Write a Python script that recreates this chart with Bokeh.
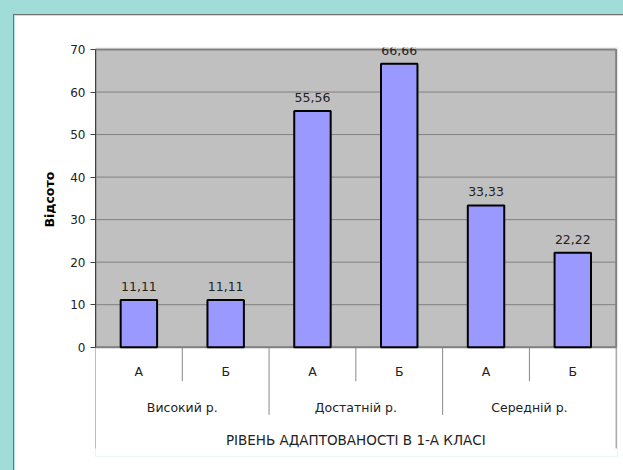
from bokeh.plotting import figure
from bokeh.models import Range1d, FixedTicker, Title, ColumnDataSource
from bokeh.core.properties import value
from bokeh.embed import file_html
from bokeh.resources import INLINE

groups = ["Високий р.", "Достатній р.", "Середній р."]
subs = ["А", "Б"]
values = [11.11, 11.11, 55.56, 66.66, 33.33, 22.22]
y_ticks = [0, 10, 20, 30, 40, 50, 60, 70]
y_label = "Відсото"
x_title = "РІВЕНЬ АДАПТОВАНОСТІ В 1-А КЛАСІ"

FONT = "DejaVu Sans"
n = len(values)
ymax = max(y_ticks)

p = figure(width=612, height=459, output_backend="svg", toolbar_location=None,
           x_range=Range1d(0, n + 0.015), y_range=Range1d(-25.69, ymax + 0.47),
           min_border_left=81, min_border_right=9, min_border_top=32, min_border_bottom=18,
           background_fill_color="white", border_fill_color="white")
p.styles = {"border-top": "1px solid #707070", "border-left": "1px solid #707070"}
p.outline_line_color = None
p.xaxis.visible = False
p.xgrid.visible = False
p.ygrid.visible = False

ya = p.yaxis[0]
ya.ticker = FixedTicker(ticks=y_ticks)
ya.bounds = (0, ymax)
ya.axis_line_color = "#404040"
ya.major_tick_line_color = "#404040"
ya.major_tick_out = 5
ya.major_tick_in = 0
ya.minor_tick_line_color = None
ya.major_label_text_font = FONT
ya.major_label_text_font_size = "12px"
ya.major_label_text_color = "#222222"
ya.major_label_standoff = 5

# plot area background
p.quad(left=[0], right=[n], bottom=[0], top=[ymax], fill_color="#c0c0c0",
       line_color="#808080", line_width=2)
# grid lines
p.segment(x0=[0] * len(y_ticks), x1=[n] * len(y_ticks), y0=y_ticks, y1=y_ticks,
          line_color="#808080", line_width=1)

xs = [i + 0.5 for i in range(n)]
src = ColumnDataSource(dict(x=xs, top=values,
                            lab=[f"{v:.2f}".replace(".", ",") for v in values]))
p.vbar(x="x", top="top", bottom=0, width=0.42, source=src,
       fill_color="#9999ff", line_color="black", line_width=2)
p.text(x="x", y="top", text="lab", source=src, text_align="center",
       text_baseline="bottom", y_offset=-9, text_font=value(FONT),
       text_font_size="12.5px", text_color="#222222")

# category axis below
sub_x = xs
sub_t = [subs[i % 2] for i in range(n)]
p.text(x=sub_x, y=[-5.7] * n, text=sub_t, text_align="center", text_baseline="middle",
       text_font=value(FONT), text_font_size="12.5px", text_color="#222222")
gx = [2 * g + 1 for g in range(len(groups))]
p.text(x=gx, y=[-14.1] * len(groups), text=groups, text_align="center",
       text_baseline="middle", text_font=value(FONT), text_font_size="12.5px",
       text_color="#222222")
p.text(x=[n / 2], y=[-21.7], text=[x_title], text_align="center", text_baseline="middle",
       text_font=value(FONT), text_font_size="13.5px", text_color="#222222")

# separators
sep_x, sep_y = [], []
for k in range(n + 1):
    if k == 0 or k == n:
        sep_y.append(-23.8)
    elif k % 2 == 0:
        sep_y.append(-15.9)
    else:
        sep_y.append(-8.0)
    sep_x.append(k)
p.segment(x0=sep_x, x1=sep_x, y0=[0] * len(sep_x), y1=sep_y, line_color="#888888",
          line_width=1)

p.add_layout(Title(text=y_label, align="left", offset=229, standoff=22,
                   text_font=FONT, text_font_size="12.5px", text_font_style="bold",
                   text_color="black"), "left")

html = file_html(p, INLINE)
html = html.replace("</head>",
                    "<style>html,body{overflow:hidden;background:#a0dcd8;}"
                    "body{margin:14px 0 0 13px;}</style></head>", 1)
open("out.html", "w").write(html)
